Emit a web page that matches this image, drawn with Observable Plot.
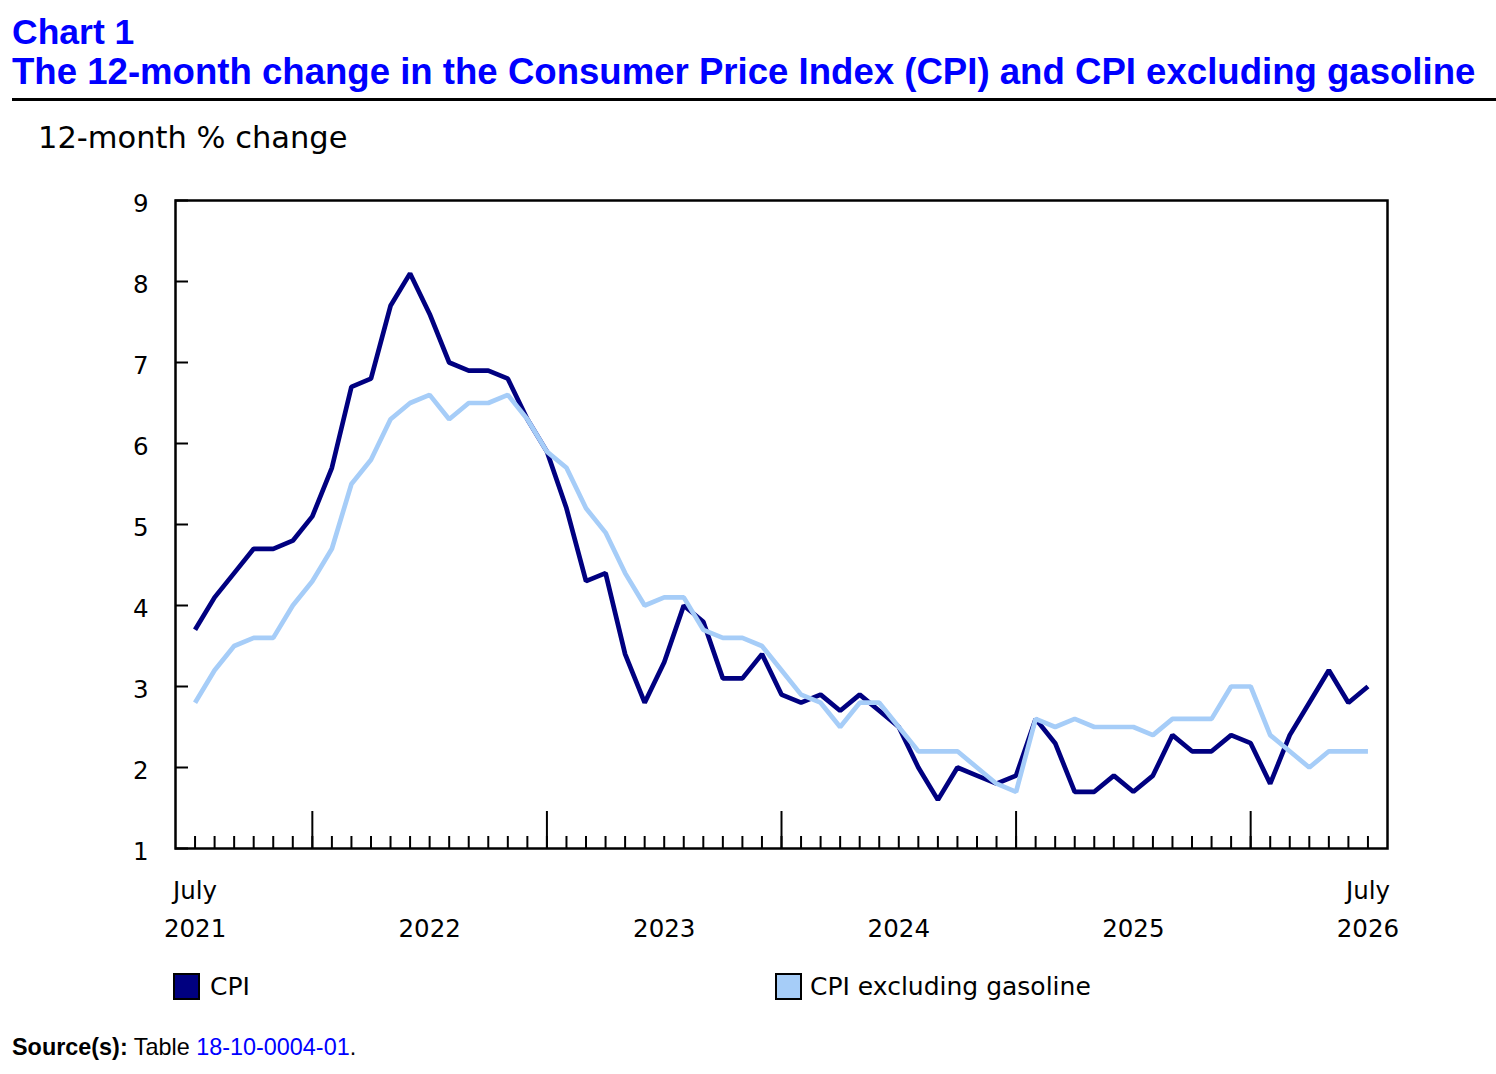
<!DOCTYPE html>
<html>
<head>
<meta charset="utf-8">
<script src="https://cdn.jsdelivr.net/npm/d3@7"></script>
<script src="https://cdn.jsdelivr.net/npm/@observablehq/plot@0.6"></script>
<style>
  body { margin: 0; background: #fff; }
  #page { position: relative; width: 1496px; height: 1074px; overflow: hidden; font-family: "DejaVu Sans", Verdana, sans-serif; color: #000; }
  .abs { position: absolute; white-space: nowrap; line-height: 1; }
  .title { left: 12px; font-family: "Liberation Sans", Arial, sans-serif; font-weight: bold; color: #0000ff; }
  #rule { position: absolute; left: 12px; top: 98px; width: 1484px; height: 3px; background: #000; }
  #ylab { left: 38px; top: 123px; font-size: 30.5px; }
  #chart { position: absolute; left: 0; top: 150px; }
  .sw { position: absolute; width: 23px; height: 23px; border: 2px solid #000; top: 973px; }
  .leg { top: 974px; font-size: 25px; }
  #src { left: 12px; top: 1036px; font-family: "Liberation Sans", Arial, sans-serif; font-size: 23.4px; }
  #src a { color: #0000ff; text-decoration: none; }
</style>
</head>
<body>
<div id="page">
  <div class="abs title" style="top:15px;font-size:35.5px">Chart 1</div>
  <div class="abs title" style="top:54px;font-size:36.6px">The 12-month change in the Consumer Price Index (CPI) and CPI excluding gasoline</div>
  <div id="rule"></div>
  <div class="abs" id="ylab">12-month % change</div>
  <div id="chart"></div>
  <div class="sw" style="left:173px;background:#000080"></div>
  <div class="abs leg" style="left:210px">CPI</div>
  <div class="sw" style="left:775px;background:#a6cdf8"></div>
  <div class="abs leg" style="left:810px">CPI excluding gasoline</div>
  <div class="abs" id="src"><b>Source(s):</b> Table <a>18-10-0004-01</a>.</div>
</div>
<script>
// Months July 2021 .. July 2026
const months = [
  "2021-07","2021-08","2021-09","2021-10","2021-11","2021-12",
  "2022-01","2022-02","2022-03","2022-04","2022-05","2022-06","2022-07","2022-08","2022-09","2022-10","2022-11","2022-12",
  "2023-01","2023-02","2023-03","2023-04","2023-05","2023-06","2023-07","2023-08","2023-09","2023-10","2023-11","2023-12",
  "2024-01","2024-02","2024-03","2024-04","2024-05","2024-06","2024-07","2024-08","2024-09","2024-10","2024-11","2024-12",
  "2025-01","2025-02","2025-03","2025-04","2025-05","2025-06","2025-07","2025-08","2025-09","2025-10","2025-11","2025-12",
  "2026-01","2026-02","2026-03","2026-04","2026-05","2026-06","2026-07"
];
const cpi = [
  3.7,4.1,4.4,4.7,4.7,4.8,
  5.1,5.7,6.7,6.8,7.7,8.1,7.6,7.0,6.9,6.9,6.8,6.3,
  5.9,5.2,4.3,4.4,3.4,2.8,3.3,4.0,3.8,3.1,3.1,3.4,
  2.9,2.8,2.9,2.7,2.9,2.7,2.5,2.0,1.6,2.0,1.9,1.8,
  1.9,2.6,2.3,1.7,1.7,1.9,1.7,1.9,2.4,2.2,2.2,2.4,
  2.3,1.8,2.4,2.8,3.2,2.8,3.0
];
const cpiExGasoline = [
  2.8,3.2,3.5,3.6,3.6,4.0,
  4.3,4.7,5.5,5.8,6.3,6.5,6.6,6.3,6.5,6.5,6.6,6.3,
  5.9,5.7,5.2,4.9,4.4,4.0,4.1,4.1,3.7,3.6,3.6,3.5,
  3.2,2.9,2.8,2.5,2.8,2.8,2.5,2.2,2.2,2.2,2.0,1.8,
  1.7,2.6,2.5,2.6,2.5,2.5,2.5,2.4,2.6,2.6,2.6,3.0,
  3.0,2.4,2.2,2.0,2.2,2.2,2.2
];
const yTicks = [1,2,3,4,5,6,7,8,9];
const xLabelMonths = ["2021-07","2022-07","2023-07","2024-07","2025-07","2026-07"];
const xLabelTexts = ["July\n2021","2022","2023","2024","2025","July\n2026"];

const data = months.map((m, i) => ({i, m, cpi: cpi[i], ex: cpiExGasoline[i]}));
const minorIdx = months.map((m, i) => i);
const majorIdx = months.map((m, i) => i).filter(i => months[i].endsWith("-01"));
const xLabels = xLabelMonths.map((m, k) => ({i: months.indexOf(m), label: xLabelTexts[k]}));

const W = 1496, H = 800;
const mL = 175, mR = 109, mT = 50, mB = 102;
const plotW = W - mL - mR, plotH = H - mT - mB;

const chart = Plot.plot({
  width: W, height: H,
  marginLeft: mL, marginRight: mR, marginTop: mT, marginBottom: mB,
  x: {domain: [-1, 61], axis: null},
  y: {domain: [1, 9]},
  style: {fontFamily: "'DejaVu Sans', Verdana, sans-serif", fontSize: "24px", color: "#000", background: "transparent", overflow: "visible"},
  marks: [
    Plot.axisY(yTicks, {tickSize: 0, tickPadding: 27, dy: 4, fontSize: 24.5, label: null, tickFormat: d => String(d)}),
    Plot.tickY(yTicks, {y: d => d, insetRight: plotW - 13, stroke: "#000", strokeWidth: 2}),
    Plot.tickX(minorIdx, {x: d => d, insetTop: plotH - 12, stroke: "#000", strokeWidth: 2}),
    Plot.tickX(majorIdx, {x: d => d, insetTop: plotH - 37, stroke: "#000", strokeWidth: 2}),
    Plot.line(data, {x: "i", y: "cpi", stroke: "#000080", strokeWidth: 4.7, strokeLinejoin: "miter", strokeLinecap: "butt"}),
    Plot.line(data, {x: "i", y: "ex", stroke: "#a6cdf8", strokeWidth: 4.7, strokeLinejoin: "miter", strokeLinecap: "butt"}),
    Plot.frame({stroke: "#000", strokeWidth: 2.5}),
    Plot.text(xLabels, {x: "i", text: "label", frameAnchor: "bottom", lineAnchor: "bottom", dy: 88, fontSize: 24.5, lineHeight: 1.52, fill: "#000"})
  ]
});
document.getElementById("chart").appendChild(chart);
</script>
</body>
</html>
